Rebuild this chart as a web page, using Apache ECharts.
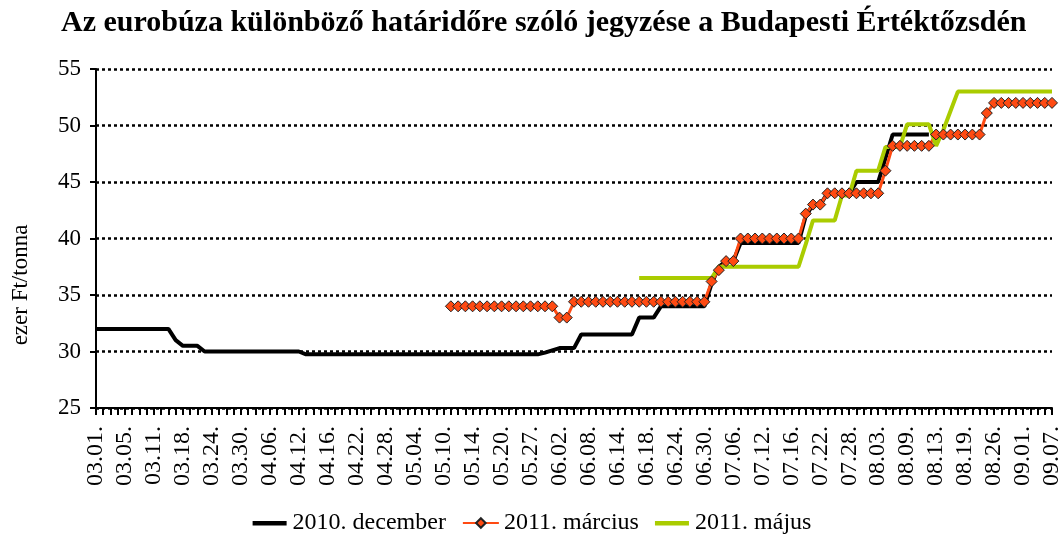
<!DOCTYPE html>
<html>
<head>
<meta charset="utf-8">
<script src="https://cdn.jsdelivr.net/npm/echarts@6/dist/echarts.min.js"></script>
<style>html,body{margin:0;padding:0;background:#fff}#c{width:1064px;height:535px}</style>
</head>
<body>
<div id="c"></div>
<script>
var categories = [
'03.01.','03.02.','03.03.','03.04.','03.05.','03.08.','03.09.','03.10.','03.11.','03.12.',
'03.16.','03.17.','03.18.','03.19.','03.22.','03.23.','03.24.','03.25.','03.26.','03.29.',
'03.30.','03.31.','04.01.','04.02.','04.06.','04.07.','04.08.','04.09.','04.12.','04.13.',
'04.14.','04.15.','04.16.','04.19.','04.20.','04.21.','04.22.','04.23.','04.26.','04.27.',
'04.28.','04.29.','04.30.','05.03.','05.04.','05.05.','05.06.','05.07.','05.10.','05.11.',
'05.12.','05.13.','05.14.','05.17.','05.18.','05.19.','05.20.','05.21.','05.25.','05.26.',
'05.27.','05.28.','05.31.','06.01.','06.02.','06.03.','06.04.','06.07.','06.08.','06.09.',
'06.10.','06.11.','06.14.','06.15.','06.16.','06.17.','06.18.','06.21.','06.22.','06.23.',
'06.24.','06.25.','06.28.','06.29.','06.30.','07.01.','07.02.','07.05.','07.06.','07.07.',
'07.08.','07.09.','07.12.','07.13.','07.14.','07.15.','07.16.','07.19.','07.20.','07.21.',
'07.22.','07.23.','07.26.','07.27.','07.28.','07.29.','07.30.','08.02.','08.03.','08.04.',
'08.05.','08.06.','08.09.','08.10.','08.11.','08.12.','08.13.','08.16.','08.17.','08.18.',
'08.19.','08.23.','08.24.','08.25.','08.26.','08.27.','08.30.','08.31.','09.01.','09.02.',
'09.03.','09.06.','09.07.'
];

var dec2010 = [
32.0,32.0,32.0,32.0,32.0,32.0,32.0,32.0,32.0,32.0,
32.0,31.0,30.5,30.5,30.5,30.0,30.0,30.0,30.0,30.0,
30.0,30.0,30.0,30.0,30.0,30.0,30.0,30.0,30.0,29.75,
29.75,29.75,29.75,29.75,29.75,29.75,29.75,29.75,29.75,29.75,
29.75,29.75,29.75,29.75,29.75,29.75,29.75,29.75,29.75,29.75,
29.75,29.75,29.75,29.75,29.75,29.75,29.75,29.75,29.75,29.75,
29.75,29.75,29.9,30.1,30.3,30.3,30.3,31.5,31.5,31.5,
31.5,31.5,31.5,31.5,31.5,33.0,33.0,33.0,34.0,34.0,
34.0,34.0,34.0,34.0,34.0,36.0,37.5,38.0,38.0,39.6,
39.6,39.6,39.6,39.6,39.6,39.6,39.6,39.6,42.0,43.0,
43.0,44.0,44.0,44.0,44.0,45.0,45.0,45.0,45.0,47.1,
49.2,49.2,49.2,49.2,49.2,49.2,null,null,null,null,
null,null,null,null,null,null,null,null,null,null,
null,null,null
];

var mar2011 = [
null,null,null,null,null,null,null,null,null,null,
null,null,null,null,null,null,null,null,null,null,
null,null,null,null,null,null,null,null,null,null,
null,null,null,null,null,null,null,null,null,null,
null,null,null,null,null,null,null,null,null,34.0,
34.0,34.0,34.0,34.0,34.0,34.0,34.0,34.0,34.0,34.0,
34.0,34.0,34.0,34.0,33.0,33.0,34.4,34.4,34.4,34.4,
34.4,34.4,34.4,34.4,34.4,34.4,34.4,34.4,34.4,34.4,
34.4,34.4,34.4,34.4,34.4,36.2,37.2,38.0,38.0,40.0,
40.0,40.0,40.0,40.0,40.0,40.0,40.0,40.0,42.2,43.0,
43.0,44.0,44.0,44.0,44.0,44.0,44.0,44.0,44.0,46.0,
48.2,48.2,48.2,48.2,48.2,48.2,49.2,49.2,49.2,49.2,
49.2,49.2,49.2,51.1,52.0,52.0,52.0,52.0,52.0,52.0,
52.0,52.0,52.0
];

var may2011 = [
null,null,null,null,null,null,null,null,null,null,
null,null,null,null,null,null,null,null,null,null,
null,null,null,null,null,null,null,null,null,null,
null,null,null,null,null,null,null,null,null,null,
null,null,null,null,null,null,null,null,null,null,
null,null,null,null,null,null,null,null,null,null,
null,null,null,null,null,null,null,null,null,null,
null,null,null,null,null,36.5,36.5,36.5,36.5,36.5,
36.5,36.5,36.5,36.5,36.5,36.5,37.5,37.5,37.5,37.5,
37.5,37.5,37.5,37.5,37.5,37.5,37.5,37.5,39.5,41.6,
41.6,41.6,41.6,43.8,43.8,46.0,46.0,46.0,46.0,48.1,
48.1,48.1,50.1,50.1,50.1,50.1,48.2,49.6,51.3,53.0,
53.0,53.0,53.0,53.0,53.0,53.0,53.0,53.0,53.0,53.0,
53.0,53.0,53.0
];

var seriesNames = ['2010. december', '2011. március', '2011. május'];
var titleText = 'Az eurobúza különböző határidőre szóló jegyzése a Budapesti Értéktőzsdén';
var yAxisName = 'ezer Ft/tonna';

var FONT = '"Liberation Serif", "DejaVu Serif", serif';
var BAR_ICON = 'path://M0,0L0.01,0L0.01,0.01Z M0,4L34,4L34,8.5L0,8.5Z M34,12L33.99,12L33.99,11.99Z';
var chart = echarts.init(document.getElementById('c'), null, {renderer: 'canvas'});
chart.setOption({
  backgroundColor: '#fff',
  animation: false,
  title: {
    text: titleText, left: 56, top: 3,
    textStyle: {fontFamily: FONT, fontSize: 30, fontWeight: 'bold', color: '#000'}
  },
  graphic: [{
    type: 'text', x: 21, y: 285, rotation: Math.PI / 2,
    style: {text: yAxisName, font: '23px ' + FONT, fill: '#000', align: 'center', verticalAlign: 'middle'}
  }],
  legend: {
    data: [
      {name: seriesNames[0], icon: BAR_ICON, itemStyle: {color: '#000'}},
      {name: seriesNames[1]},
      {name: seriesNames[2], icon: BAR_ICON, itemStyle: {color: '#AACC00'}}
    ],
    left: 'center', top: 506,
    itemWidth: 36, itemHeight: 12, itemGap: 16,
    textStyle: {fontFamily: FONT, fontSize: 24, color: '#000'}
  },
  grid: {left: 96, right: 7, top: 69, bottom: 127, containLabel: false},
  xAxis: {
    type: 'category', data: categories, boundaryGap: false,
    axisLine: {lineStyle: {color: '#000', width: 2}},
    axisTick: {show: true, interval: 0, length: 7, lineStyle: {color: '#000', width: 2}},
    axisLabel: {interval: 3, rotate: 90, margin: 18, color: '#000', fontFamily: FONT, fontSize: 24},
    splitLine: {show: false}
  },
  yAxis: {
    type: 'value', min: 25, max: 55, interval: 5,
    axisLine: {show: true, lineStyle: {color: '#000', width: 2}},
    axisTick: {show: true, length: 6, lineStyle: {color: '#000', width: 2}},
    axisLabel: {margin: 15, color: '#000', fontFamily: FONT, fontSize: 23},
    splitLine: {show: true, lineStyle: {color: '#000', width: 2.5, type: [3, 3]}}
  },
  series: [
    {name: seriesNames[0], type: 'line', data: dec2010, symbol: 'none',
     lineStyle: {color: '#000', width: 4}, itemStyle: {color: '#000'}},
    {name: seriesNames[1], type: 'line', data: mar2011, symbol: 'diamond', symbolSize: 11,
     showAllSymbol: true,
     lineStyle: {color: '#FF4A12', width: 3},
     itemStyle: {color: '#FF4A12', borderColor: '#222', borderWidth: 1}},
    {name: seriesNames[2], type: 'line', data: may2011, symbol: 'none',
     lineStyle: {color: '#AACC00', width: 4}, itemStyle: {color: '#AACC00'}}
  ]
});
</script>
</body>
</html>
